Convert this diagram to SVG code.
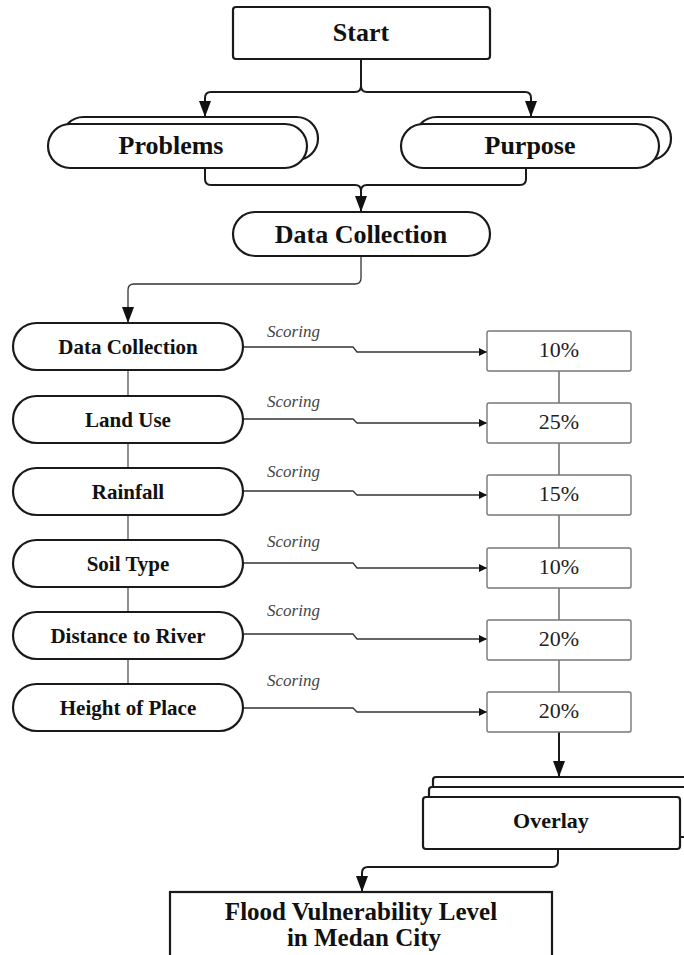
<svg xmlns="http://www.w3.org/2000/svg" width="684" height="955" viewBox="0 0 684 955">
<style>
.n{fill:#fff;stroke:#1a1a1a;stroke-width:2.2}
.b{fill:#fff;stroke:#777;stroke-width:1.4}
.t{font-family:"Liberation Serif","Times New Roman",serif;font-weight:bold;fill:#111;text-anchor:middle}
.big{font-size:26px}
.mid{font-size:21px}
.pct{font-family:"Liberation Serif","Times New Roman",serif;font-size:22px;fill:#222;text-anchor:middle}
.sc{font-family:"Liberation Serif","Times New Roman",serif;font-size:17px;font-style:italic;fill:#444}
.c{fill:none;stroke:#1a1a1a;stroke-width:2}
.cs{fill:none;stroke:#333;stroke-width:1.3}
.cg{fill:none;stroke:#555;stroke-width:1.3}
</style>
<defs>
<marker id="ah" viewBox="0 0 16 12" refX="16" refY="6" markerWidth="16" markerHeight="12" markerUnits="userSpaceOnUse" orient="auto">
<path d="M0,0 L16,6 L0,12 Z" fill="#111"/>
</marker>
<marker id="as" viewBox="0 0 8 8" refX="8" refY="4" markerWidth="8" markerHeight="8" markerUnits="userSpaceOnUse" orient="auto">
<path d="M0,0 L8,4 L0,8 Z" fill="#111"/>
</marker>
</defs>

<g id="connectors">
<path class="c" d="M361,59 V86 Q361,92 355,92 H211 Q205,92 205,98 V117" marker-end="url(#ah)"/>
<path class="c" d="M361,86 Q361,92 367,92 H525 Q531,92 531,98 V117" marker-end="url(#ah)"/>
<path class="c" d="M205,168 V179 Q205,185 211,185 H355 Q361,185 361,191 V212" marker-end="url(#ah)"/>
<path class="c" d="M526,168 V179 Q526,185 520,185 H367 Q361,185 361,191"/>
<path class="cs" d="M361,256 V278 Q361,284 355,284 H134 Q128,284 128,290 V323" marker-end="url(#ah)"/>
<path class="cg" d="M128,370 V396 M128,443 V468 M128,515 V540 M128,587 V612 M128,659 V684"/>
<path class="cg" d="M559,371 V403 M559,443 V475 M559,515 V548 M559,588 V620 M559,660 V692"/>
<path class="cs" d="M243,347 H353 L357,352 H487" marker-end="url(#as)"/>
<path class="cs" d="M243,419 H353 L357,423 H487" marker-end="url(#as)"/>
<path class="cs" d="M243,491 H353 L357,495 H487" marker-end="url(#as)"/>
<path class="cs" d="M243,563 H353 L357,568 H487" marker-end="url(#as)"/>
<path class="cs" d="M243,634 H353 L357,639 H487" marker-end="url(#as)"/>
<path class="cs" d="M243,708 H353 L357,712 H487" marker-end="url(#as)"/>
<path class="c" d="M559,732 V777" stroke-width="2.5" marker-end="url(#ah)"/>
<path class="c" d="M558,849 V861 Q558,867 552,867 H368 Q362,867 362,873 V892" marker-end="url(#ah)"/>
<text class="sc" x="267" y="337">Scoring</text>
<text class="sc" x="267" y="407">Scoring</text>
<text class="sc" x="267" y="477">Scoring</text>
<text class="sc" x="267" y="547">Scoring</text>
<text class="sc" x="267" y="616">Scoring</text>
<text class="sc" x="267" y="686">Scoring</text>
</g>

<g id="start">
<rect class="n" x="233" y="7" width="257" height="52" rx="3"/>
<text class="t big" x="361" y="41">Start</text>
</g>

<g id="problems">
<rect class="n" x="62" y="117" width="256" height="43" rx="21.5"/>
<rect class="n" x="48" y="124" width="259" height="44" rx="22"/>
<text class="t big" x="171" y="154">Problems</text>
</g>

<g id="purpose">
<rect class="n" x="415" y="117" width="256" height="43" rx="21.5"/>
<rect class="n" x="401" y="124" width="258" height="44" rx="22"/>
<text class="t big" x="530" y="154">Purpose</text>
</g>

<g id="data-collection-main">
<rect class="n" x="233" y="212" width="257" height="44" rx="22"/>
<text class="t big" x="361" y="243">Data Collection</text>
</g>

<g id="n-data-collection">
<rect class="n" x="13" y="323" width="230" height="47" rx="23.5"/>
<text class="t mid" x="128" y="354">Data Collection</text>
</g>
<g id="n-land-use">
<rect class="n" x="13" y="396" width="230" height="47" rx="23.5"/>
<text class="t mid" x="128" y="427">Land Use</text>
</g>
<g id="n-rainfall">
<rect class="n" x="13" y="468" width="230" height="47" rx="23.5"/>
<text class="t mid" x="128" y="499">Rainfall</text>
</g>
<g id="n-soil-type">
<rect class="n" x="13" y="540" width="230" height="47" rx="23.5"/>
<text class="t mid" x="128" y="571">Soil Type</text>
</g>
<g id="n-distance">
<rect class="n" x="13" y="612" width="230" height="47" rx="23.5"/>
<text class="t mid" x="128" y="643">Distance to River</text>
</g>
<g id="n-height">
<rect class="n" x="13" y="684" width="230" height="47" rx="23.5"/>
<text class="t mid" x="128" y="715">Height of Place</text>
</g>

<g id="p1"><rect class="b" x="487" y="331" width="144" height="40" rx="2"/><text class="pct" x="559" y="357">10%</text></g>
<g id="p2"><rect class="b" x="487" y="403" width="144" height="40" rx="2"/><text class="pct" x="559" y="429">25%</text></g>
<g id="p3"><rect class="b" x="487" y="475" width="144" height="40" rx="2"/><text class="pct" x="559" y="501">15%</text></g>
<g id="p4"><rect class="b" x="487" y="548" width="144" height="40" rx="2"/><text class="pct" x="559" y="574">10%</text></g>
<g id="p5"><rect class="b" x="487" y="620" width="144" height="40" rx="2"/><text class="pct" x="559" y="646">20%</text></g>
<g id="p6"><rect class="b" x="487" y="692" width="144" height="40" rx="2"/><text class="pct" x="559" y="718">20%</text></g>

<g id="overlay">
<rect class="n" x="433" y="777" width="300" height="55" rx="3"/>
<rect class="n" x="429" y="787" width="300" height="50" rx="3"/>
<rect class="n" x="423" y="797" width="257" height="52" rx="3"/>
<text class="t" font-size="22" x="551" y="828">Overlay</text>
</g>

<g id="result">
<rect class="n" x="170" y="892" width="382" height="90" stroke-width="2.5"/>
<text class="t" font-size="25" x="361" y="920">Flood Vulnerability Level</text>
<text class="t" font-size="25" x="364" y="946">in Medan City</text>
</g>
</svg>
